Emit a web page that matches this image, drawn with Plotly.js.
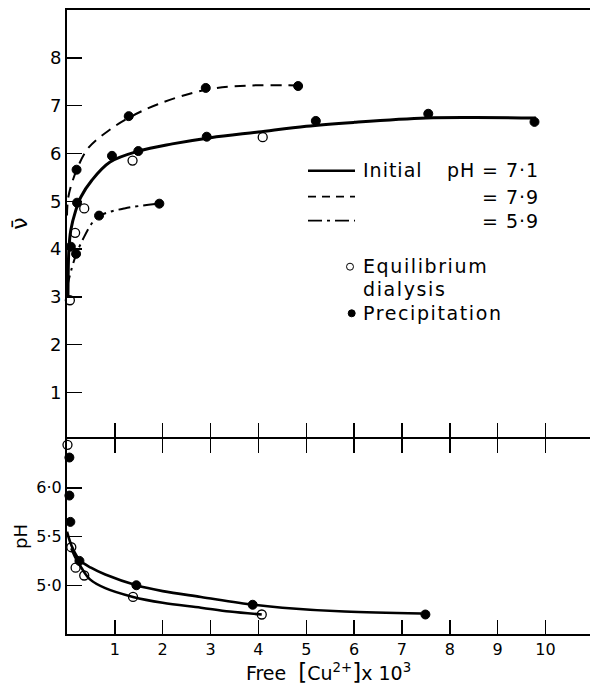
<!DOCTYPE html>
<html>
<head>
<meta charset="utf-8">
<script src="https://cdn.plot.ly/plotly-3.0.1.min.js"></script>
<style>html,body{margin:0;padding:0;background:#fff;}#chart{width:590px;height:688px;}</style>
</head>
<body>
<div id="chart"></div>
<script>
// ---- Tick labels ----
const xTickVals = [1, 2, 3, 4, 5, 6, 7, 8, 9, 10];
const xTickText = ["1", "2", "3", "4", "5", "6", "7", "8", "9", "10"];
const nuTickVals = [1, 2, 3, 4, 5, 6, 7, 8];
const pHTickVals = [5.0, 5.5, 6.0];
const pHTickText = ["5·0", "5·5", "6·0"];

// ---- Upper panel: nu-bar vs free [Cu2+] x 10^3 ----
// Initial pH 7.1, precipitation (filled)
const ppt71X = [0.08, 0.21, 0.94, 1.49, 2.92, 5.20, 7.55, 9.77];
const ppt71Y = [4.05, 4.97, 5.95, 6.05, 6.35, 6.68, 6.83, 6.66];
// Initial pH 7.1, equilibrium dialysis (open)
const dia71X = [0.06, 0.17, 0.36, 1.37, 4.09];
const dia71Y = [2.93, 4.34, 4.85, 5.85, 6.34];
// Initial pH 7.9, precipitation
const ppt79X = [0.20, 1.29, 2.90, 4.83];
const ppt79Y = [5.66, 6.78, 7.37, 7.41];
// Initial pH 5.9, precipitation
const ppt59X = [0.19, 0.67, 1.93];
const ppt59Y = [3.90, 4.70, 4.95];

// Drawn curves
const curve71X = [0.02, 0.04, 0.08, 0.18, 0.29, 0.52, 0.9, 1.5, 2.2, 3.0, 4.0, 5.0, 6.0, 7.5, 8.5, 9.8];
const curve71Y = [3.0, 4.0, 4.4, 4.8, 5.09, 5.44, 5.82, 6.05, 6.2, 6.33, 6.45, 6.57, 6.65, 6.74, 6.75, 6.74];
const curve79X = [0.0, 0.03, 0.2, 0.45, 0.9, 1.3, 1.9, 2.9, 3.8, 4.8];
const curve79Y = [4.7, 5.1, 5.65, 6.12, 6.5, 6.75, 7.03, 7.33, 7.42, 7.42];
const curve59X = [0.0, 0.1, 0.2, 0.34, 0.52, 0.67, 0.9, 1.2, 1.5, 1.93];
const curve59Y = [3.2, 3.6, 3.91, 4.22, 4.54, 4.69, 4.78, 4.85, 4.9, 4.95];

// ---- Lower panel: pH vs free [Cu2+] x 10^3 ----
const pHpptX = [0.05, 0.05, 0.07, 0.26, 1.45, 3.88, 7.49];
const pHpptY = [6.31, 5.92, 5.65, 5.25, 5.00, 4.80, 4.70];
const pHdiaX = [0.01, 0.09, 0.18, 0.36, 1.38, 4.07];
const pHdiaY = [6.44, 5.39, 5.18, 5.10, 4.88, 4.70];
const pHcurvePptX = [0.0, 0.1, 0.26, 0.5, 0.8, 1.45, 2.0, 2.8, 3.9, 4.5, 5.8, 7.4];
const pHcurvePptY = [5.55, 5.4, 5.26, 5.18, 5.11, 5.0, 4.94, 4.88, 4.80, 4.77, 4.73, 4.71];
const pHcurveDiaX = [0.09, 0.18, 0.3, 0.48, 0.8, 1.38, 2.0, 2.8, 3.4, 4.07];
const pHcurveDiaY = [5.38, 5.28, 5.18, 5.06, 4.97, 4.88, 4.82, 4.77, 4.73, 4.70];

const FONT = "DejaVu Sans, Liberation Sans, sans-serif";
const filled = {symbol: "circle", size: 9, color: "#000", line: {color: "#000", width: 1}};
const open = {symbol: "circle-open", size: 9, color: "#000", line: {color: "#000", width: 1.3}};

function line(x, y, xa, ya, width, dash) {
  return {x: x, y: y, xaxis: xa, yaxis: ya, mode: "lines", type: "scatter",
    line: {color: "#000", width: width, dash: dash, shape: "spline", smoothing: 1},
    hoverinfo: "skip", showlegend: false};
}
function pts(x, y, xa, ya, marker) {
  return {x: x, y: y, xaxis: xa, yaxis: ya, mode: "markers", type: "scatter",
    marker: marker, showlegend: false, cliponaxis: false};
}

const traces = [
  line(curve71X, curve71Y, "x2", "y2", 3, "solid"),
  line(curve79X, curve79Y, "x2", "y2", 2, "11px,7px"),
  line(curve59X, curve59Y, "x2", "y2", 2, "12px,5px,3px,5px"),
  pts(ppt71X, ppt71Y, "x2", "y2", filled),
  pts(ppt79X, ppt79Y, "x2", "y2", filled),
  pts(ppt59X, ppt59Y, "x2", "y2", filled),
  pts(dia71X, dia71Y, "x2", "y2", open),
  line(pHcurvePptX, pHcurvePptY, "x", "y", 2.6, "solid"),
  line(pHcurveDiaX, pHcurveDiaY, "x", "y", 2.6, "solid"),
  pts(pHpptX, pHpptY, "x", "y", filled),
  pts(pHdiaX, pHdiaY, "x", "y", open)
];

// paper coordinate helpers (plot area: x 67..590, y 10..634)
const PX = px => (px - 67) / 523;
const PY = py => (634 - py) / 624;

const split = (634 - 438) / 624;
const onePx = 1 / 624;

const axisCommon = {
  showline: true, linecolor: "#000", linewidth: 2,
  ticks: "inside", tickcolor: "#000", tickwidth: 1.5,
  showgrid: false, zeroline: false, fixedrange: true
};

const legFont = {family: FONT, size: 19};
function ann(px, py, text, anchor, spacing) {
  return {xref: "paper", yref: "paper", x: PX(px), y: PY(py), xanchor: anchor, yanchor: "middle",
    align: anchor, showarrow: false, text: text, font: legFont, name: spacing || "s1"};
}

const layout = {
  width: 590, height: 688,
  margin: {l: 67, r: 0, t: 10, b: 54},
  paper_bgcolor: "#fff", plot_bgcolor: "#fff",
  font: {family: FONT, color: "#000"},
  showlegend: false,
  xaxis: Object.assign({}, axisCommon, {
    domain: [0, 1], range: [0, 10.93], anchor: "y",
    tickvals: xTickVals, ticktext: xTickText, ticklen: 14, mirror: "ticks",
    tickfont: {family: FONT, size: 16},
    title: {text: "Free  <span style='font-size:23px'>[</span>Cu<sup>2+</sup><span style='font-size:23px'>]</span>x 10<sup>3</sup>", font: {family: FONT, size: 19}, standoff: 2}
  }),
  yaxis: Object.assign({}, axisCommon, {
    domain: [0, split - onePx], range: [4.5, 6.5], anchor: "x",
    tickvals: pHTickVals, ticktext: pHTickText, ticklen: 15,
    tickfont: {family: FONT, size: 16},
    title: {text: "pH", font: {family: FONT, size: 18}, standoff: 4}
  }),
  xaxis2: Object.assign({}, axisCommon, {
    domain: [0, 1], range: [0, 10.93], anchor: "y2", matches: "x",
    tickvals: xTickVals, ticklen: 14, showticklabels: false, mirror: true
  }),
  yaxis2: Object.assign({}, axisCommon, {
    domain: [split + onePx, 1], range: [0.07, 9.0], anchor: "x2",
    tickvals: nuTickVals, ticklen: 15,
    tickfont: {family: FONT, size: 18},
    title: {text: "ν̄", font: {family: FONT, size: 22}, standoff: 16}
  }),
  shapes: [
    {type: "line", xref: "paper", yref: "paper", x0: PX(308), x1: PX(355), y0: PY(170.7), y1: PY(170.7), line: {color: "#000", width: 2.5}},
    {type: "line", xref: "paper", yref: "paper", x0: PX(308), x1: PX(355), y0: PY(196.7), y1: PY(196.7), line: {color: "#000", width: 1.8, dash: "8px,6px"}},
    {type: "line", xref: "paper", yref: "paper", x0: PX(308), x1: PX(355), y0: PY(220.7), y1: PY(220.7), line: {color: "#000", width: 1.8, dash: "14px,5px,3px,5px"}},
    {type: "circle", xref: "paper", yref: "paper", xsizemode: "pixel", ysizemode: "pixel",
      xanchor: PX(350), yanchor: PY(266.7), x0: -3.5, x1: 3.5, y0: -3.5, y1: 3.5, line: {color: "#000", width: 1}},
    {type: "circle", xref: "paper", yref: "paper", xsizemode: "pixel", ysizemode: "pixel",
      xanchor: PX(351.7), yanchor: PY(313.3), x0: -3.5, x1: 3.5, y0: -3.5, y1: 3.5, fillcolor: "#000", line: {color: "#000", width: 1}}
  ],
  annotations: [
    ann(361, 170.5, "Initial", "left"),
    ann(445, 170.5, "pH", "left"),
    ann(541, 170.5, "= 7·1", "right"),
    ann(541, 196.5, "= 7·9", "right"),
    ann(541, 220.5, "= 5·9", "right"),
    ann(361, 266, "Equilibrium", "left", "s2"),
    ann(361, 288.5, "dialysis", "left", "s2"),
    ann(361, 313, "Precipitation", "left", "s2")
  ]
};

Plotly.newPlot("chart", traces, layout, {displayModeBar: false, staticPlot: true}).then(function () {
  const anns = layout.annotations;
  document.querySelectorAll("#chart .annotation-text").forEach(function (t, i) {
    const a = anns[i];
    t.style.letterSpacing = (a && a.name === "s2") ? "1.6px" : "1px";
  });
});
</script>
</body>
</html>
